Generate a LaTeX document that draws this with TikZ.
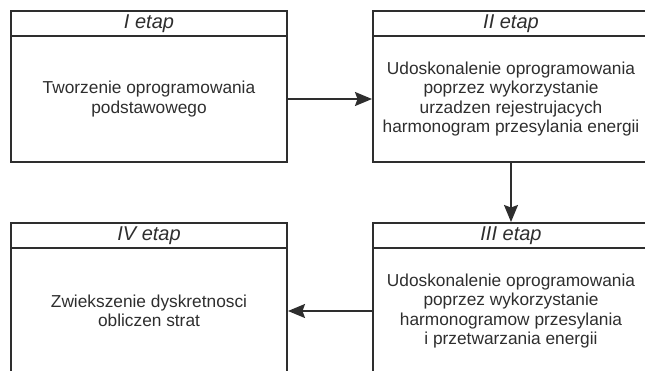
\documentclass[tikz,border=0pt]{standalone}
\usepackage{fontspec}
\setmainfont{Liberation Sans}
\usetikzlibrary{arrows.meta,positioning}
\definecolor{etapgray}{HTML}{2E2E2E}

\begin{document}
\begin{tikzpicture}[x=1pt, y=-1pt,
  every node/.style={draw=etapgray, line width=2pt, align=center, text=etapgray, inner sep=0pt, outer sep=0pt},
  head/.style={minimum width=276pt, minimum height=25pt, font=\fontsize{20}{22}\selectfont\itshape},
  body/.style={minimum width=276pt, minimum height=126pt, font=\fontsize{17.3}{19.5}\selectfont},
  flow/.style={draw=etapgray, line width=1.7pt, -{Stealth[length=17pt,width=14pt,inset=2.5pt]}, shorten >=1pt}
]
\useasboundingbox (0,0) rectangle (645,370);
\clip (0,0) rectangle (645,370);
\node[head] (h1) at (149,23.5) {I etap};
\node[body, below=0pt of h1] (b1) {Tworzenie oprogramowania\\podstawowego};
\node[head, right=86pt of h1] (h2) {II etap};
\node[body, below=0pt of h2] (b2) {Udoskonalenie oprogramowania\\poprzez wykorzystanie\\urzadzen rejestrujacych\\harmonogram przesylania energii};
\node[head, below=61pt of b2] (h3) {III etap};
\node[body, below=0pt of h3] (b3) {Udoskonalenie oprogramowania\\poprzez wykorzystanie\\harmonogramow przesylania\\i przetwarzania energii};
\node[head, left=86pt of h3] (h4) {IV etap};
\node[body, below=0pt of h4] (b4) {Zwiekszenie dyskretnosci\\obliczen strat};

\draw[flow] (b1) -- (b2);
\draw[flow] (b2) -- (h3);
\draw[flow] (b3) -- (b4);
\end{tikzpicture}
\end{document}
